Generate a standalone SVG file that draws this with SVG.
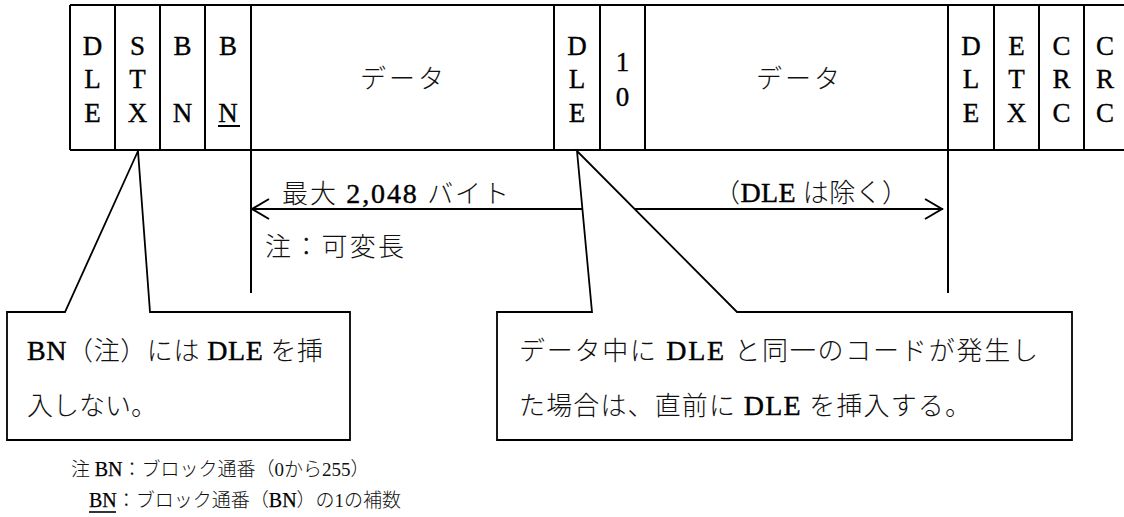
<svg xmlns="http://www.w3.org/2000/svg" width="1124" height="517" viewBox="0 0 1124 517">
<style>
.ln{stroke:#000;stroke-width:2;fill:none}
.thin{stroke:#000;stroke-width:1.6;fill:none}
.box{stroke:#000;stroke-width:1.8;fill:#fff}
.c{font-family:"Liberation Serif","Noto Sans CJK JP",serif;font-size:27px;fill:#000;stroke:#000;stroke-width:0.35;text-anchor:middle}
.j{font-family:"Liberation Serif","Noto Sans CJK JP",serif;font-size:26px;font-weight:300;fill:#111;text-anchor:middle}
.t{font-family:"Liberation Serif","Noto Sans CJK JP",serif;font-size:26px;font-weight:300;fill:#111}
.f{font-family:"Liberation Serif","Noto Sans CJK JP",serif;font-size:19px;font-weight:300;fill:#111}
.L{font-size:28px;font-weight:400;fill:#000;stroke:#000;stroke-width:0.4}
.Lf{font-size:20px;font-weight:400;fill:#000;stroke:#000;stroke-width:0.25}
</style>
<rect width="1124" height="517" fill="#fff"/>
<g id="frame">
<path class="ln" d="M70,5H1124M70,150H1124M70,5V150M115,5V150M160,5V150M205,5V150M251,5V150M554,5V150M600,5V150M645,5V150M948,5V150M994,5V150M1039,5V150M1084,5V150"/>
</g>
<g id="f-dle1"><text class="c" x="92.5" y="55">D</text><text class="c" x="92.5" y="88">L</text><text class="c" x="92.5" y="122">E</text></g>
<g id="f-stx"><text class="c" x="137.5" y="55">S</text><text class="c" x="137.5" y="88">T</text><text class="c" x="137.5" y="122">X</text></g>
<g id="f-bn"><text class="c" x="182.5" y="55">B</text><text class="c" x="182.5" y="122">N</text></g>
<g id="f-bnbar"><text class="c" x="228" y="55">B</text><text class="c" x="228" y="122">N</text><line class="ln" x1="218" y1="126" x2="240" y2="126"/></g>
<g id="f-data1"><text class="j" x="402" y="88" textLength="84" lengthAdjust="spacing">データ</text></g>
<g id="f-dle2"><text class="c" x="577" y="55">D</text><text class="c" x="577" y="88">L</text><text class="c" x="577" y="122">E</text></g>
<g id="f-10"><text class="c" x="622.5" y="71">1</text><text class="c" x="622.5" y="106">0</text></g>
<g id="f-data2"><text class="j" x="798" y="88" textLength="84" lengthAdjust="spacing">データ</text></g>
<g id="f-dle3"><text class="c" x="971" y="55">D</text><text class="c" x="971" y="88">L</text><text class="c" x="971" y="122">E</text></g>
<g id="f-etx"><text class="c" x="1016.5" y="55">E</text><text class="c" x="1016.5" y="88">T</text><text class="c" x="1016.5" y="122">X</text></g>
<g id="f-crc1"><text class="c" x="1061.5" y="55">C</text><text class="c" x="1061.5" y="88">R</text><text class="c" x="1061.5" y="122">C</text></g>
<g id="f-crc2"><text class="c" x="1105" y="55">C</text><text class="c" x="1105" y="88">R</text><text class="c" x="1105" y="122">C</text></g>
<g id="connectors">
<path class="ln" d="M251,150V293M948,150V293"/>
<path class="ln" d="M251,209H582M634,209H943"/>
<path class="ln" d="M269,199L252,209L269,219M925,199L942,209L925,219"/>
</g>
<g id="labels">
<text class="t" x="282" y="203" textLength="227" lengthAdjust="spacing">最大 <tspan class="L">2,048</tspan> バイト</text>
<text class="t" x="714" y="202" textLength="194" lengthAdjust="spacing">（<tspan class="L">DLE</tspan> は除く）</text>
<text class="t" x="265" y="256" textLength="139" lengthAdjust="spacing">注：可変長</text>
</g>
<g id="callout-left">
<path class="box" d="M7,312H65L138,151L150,312H350V440H7Z"/>
<text class="t" x="27" y="360" textLength="296" lengthAdjust="spacing"><tspan class="L">BN</tspan>（注）には <tspan class="L">DLE</tspan> を挿</text>
<text class="t" x="27" y="415">入しない。</text>
</g>
<g id="callout-right">
<path class="box" d="M497,312H592L577,151L737,312H1072V440H497Z"/>
<text class="t" x="519" y="360" textLength="519" lengthAdjust="spacing">データ中に <tspan class="L">DLE</tspan> と同一のコードが発生し</text>
<text class="t" x="519" y="415" textLength="452" lengthAdjust="spacing">た場合は、直前に <tspan class="L">DLE</tspan> を挿入する。</text>
</g>
<g id="footnote">
<text class="f" x="71" y="476">注 <tspan class="Lf">BN</tspan>：ブロック通番（0から255）</text>
<text class="f" x="89" y="507"><tspan class="Lf">BN</tspan>：ブロック通番（<tspan class="Lf">BN</tspan>）の1の補数</text>
<line class="thin" x1="89" y1="512" x2="116" y2="512"/>
</g>
</svg>
